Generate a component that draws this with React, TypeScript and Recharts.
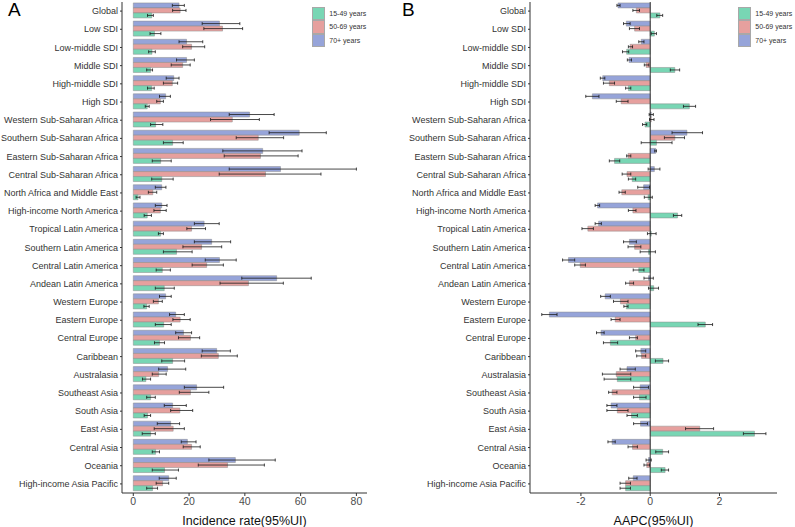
import React from 'react';
import { BarChart, Bar, XAxis, YAxis, ErrorBar, ReferenceLine, Label } from 'recharts';

const categories = [
  'Global', 'Low SDI', 'Low-middle SDI', 'Middle SDI', 'High-middle SDI', 'High SDI',
  'Western Sub-Saharan Africa', 'Southern Sub-Saharan Africa', 'Eastern Sub-Saharan Africa',
  'Central Sub-Saharan Africa', 'North Africa and Middle East', 'High-income North America',
  'Tropical Latin America', 'Southern Latin America', 'Central Latin America', 'Andean Latin America',
  'Western Europe', 'Eastern Europe', 'Central Europe', 'Caribbean', 'Australasia', 'Southeast Asia',
  'South Asia', 'East Asia', 'Central Asia', 'Oceania', 'High-income Asia Pacific',
];

// Panel A: incidence rate
const inc15 = [6.6, 7.6, 6.7, 6.2, 6.6, 5.0, 8.0, 14.1, 9.8, 10.2, 1.7, 5.0, 9.8, 15.5, 10.4, 11.1, 4.8, 10.9, 9.4, 14.1, 4.5, 6.2, 5.1, 6.2, 8.0, 11.2, 6.9];
const inc15Lo = [5.1, 6.0, 5.5, 4.8, 5.1, 4.3, 6.2, 10.8, 6.8, 6.6, 1.0, 3.9, 9.0, 10.8, 8.2, 7.9, 3.8, 7.9, 7.6, 10.2, 3.3, 4.8, 3.9, 3.2, 6.8, 6.8, 4.8];
const inc15Hi = [7.2, 9.9, 7.9, 6.9, 7.5, 5.7, 10.6, 17.9, 13.6, 14.3, 2.4, 6.5, 10.8, 21.1, 13.3, 14.7, 5.7, 13.6, 11.2, 18.4, 6.2, 7.9, 6.2, 7.9, 9.4, 16.2, 8.7];
const inc50 = [16.8, 32.0, 20.9, 17.7, 14.0, 9.7, 35.5, 44.8, 45.6, 47.4, 7.0, 9.7, 20.9, 24.5, 26.3, 41.3, 9.0, 16.8, 20.5, 30.5, 9.1, 20.5, 16.7, 14.3, 20.9, 33.8, 10.5];
const inc50Lo = [14.1, 25.3, 17.7, 13.6, 10.8, 8.4, 27.7, 36.9, 32.6, 30.8, 5.4, 7.4, 19.2, 17.8, 21.1, 31.1, 7.2, 14.2, 16.2, 24.4, 6.8, 16.5, 13.4, 7.5, 17.9, 23.3, 8.2];
const inc50Hi = [18.9, 39.2, 25.6, 20.4, 15.9, 10.8, 45.2, 53.9, 59.1, 67.3, 8.4, 11.8, 25.9, 31.7, 32.3, 53.8, 10.4, 20.4, 23.8, 37.3, 11.8, 27.1, 21.3, 18.3, 24.0, 47.0, 12.7];
const inc70 = [16.4, 30.9, 19.1, 19.1, 14.5, 11.6, 41.7, 59.5, 46.4, 52.8, 10.2, 10.2, 25.4, 28.1, 30.9, 51.4, 11.6, 15.2, 18.0, 29.9, 12.3, 22.7, 14.1, 13.4, 19.4, 36.6, 12.7];
const inc70Lo = [14.0, 24.7, 16.4, 15.5, 11.8, 9.4, 34.4, 48.7, 32.1, 34.4, 7.9, 7.9, 21.9, 21.9, 25.8, 38.9, 9.4, 13.0, 15.2, 24.7, 9.1, 18.3, 11.1, 8.6, 17.2, 27.1, 9.3];
const inc70Hi = [18.3, 38.2, 24.9, 21.9, 16.4, 13.3, 50.5, 69.2, 60.5, 80.0, 11.7, 12.1, 30.8, 34.9, 36.9, 63.8, 13.6, 18.3, 20.9, 34.8, 18.8, 32.4, 19.0, 16.6, 22.5, 50.9, 15.4];

// Panel B: AAPC
const a15 = [0.28, 0.12, -0.68, 0.71, -0.63, 1.13, -0.15, 0.18, -1.03, -0.52, -0.06, 0.79, 0.03, -0.05, -0.33, 0.10, -0.69, 1.59, -1.15, 0.37, -0.95, -0.31, -0.54, 3.01, 0.36, 0.43, -0.71];
const a15Lo = [0.19, 0.03, -0.80, 0.58, -0.71, 0.96, -0.22, -0.26, -1.18, -0.63, -0.17, 0.67, -0.08, -0.29, -0.49, -0.05, -0.76, 1.38, -1.35, 0.15, -1.33, -0.48, -0.67, 2.69, 0.16, 0.32, -0.87];
const a15Hi = [0.36, 0.18, -0.62, 0.85, -0.56, 1.31, -0.10, 0.63, -0.88, -0.42, 0.06, 0.91, 0.17, 0.15, -0.18, 0.24, -0.64, 1.80, -0.94, 0.53, -0.56, -0.12, -0.37, 3.34, 0.53, 0.53, -0.57];
const a50 = [-0.40, -0.45, -0.58, -0.12, -1.18, -0.84, 0.03, 0.71, -0.64, -0.67, -0.82, -0.50, -1.80, -0.45, -2.02, -0.60, -0.86, -1.01, -0.42, -0.25, -0.98, -1.10, -0.95, 1.43, -0.51, -0.10, -0.71];
const a50Lo = [-0.50, -0.60, -0.63, -0.17, -1.35, -0.98, -0.02, 0.41, -0.68, -0.81, -0.90, -0.63, -1.97, -0.64, -2.18, -0.71, -1.06, -1.13, -0.60, -0.39, -1.38, -1.20, -1.25, 1.02, -0.64, -0.18, -0.87];
const a50Hi = [-0.31, -0.31, -0.51, -0.04, -1.03, -0.64, 0.11, 0.99, -0.56, -0.56, -0.72, -0.41, -1.64, -0.27, -1.87, -0.48, -0.64, -0.87, -0.37, -0.13, -0.56, -0.96, -0.64, 1.83, -0.37, -0.02, -0.57];
const a70 = [-0.93, -0.69, -0.26, -0.61, -1.37, -1.67, 0.03, 1.06, 0.16, 0.12, -0.19, -1.52, -1.49, -0.60, -2.36, -0.05, -1.30, -2.91, -1.42, -0.27, -0.67, -0.29, -1.13, -0.28, -1.10, -0.05, -0.49];
const a70Lo = [-0.96, -0.77, -0.33, -0.66, -1.44, -1.86, -0.03, 0.63, 0.13, -0.06, -0.36, -1.59, -1.59, -0.77, -2.53, -0.18, -1.43, -3.13, -1.55, -0.42, -0.87, -0.48, -1.25, -0.48, -1.22, -0.12, -0.62];
const a70Hi = [-0.87, -0.58, -0.18, -0.54, -1.31, -1.48, 0.09, 1.51, 0.18, 0.28, -0.02, -1.46, -1.41, -0.40, -2.18, 0.09, -1.15, -2.69, -1.33, -0.13, -0.43, -0.05, -0.96, -0.08, -1.01, 0.03, -0.38];

const GREEN = '#78d6b4';
const RED = '#e6a09e';
const BLUE = '#96a4d9';
const FONT = '"Liberation Sans", Arial, sans-serif';

const legendItems = [
  { name: '15-49 years', color: GREEN },
  { name: '50-69 years', color: RED },
  { name: '70+ years', color: BLUE },
];

// error bars take [minus, plus] distances from the bar value
const buildRows = (v15: number[], l15: number[], h15: number[], v50: number[], l50: number[], h50: number[], v70: number[], l70: number[], h70: number[]) =>
  categories.map((name, i) => ({
    name,
    y15: v15[i], e15: [v15[i] - l15[i], h15[i] - v15[i]],
    y50: v50[i], e50: [v50[i] - l50[i], h50[i] - v50[i]],
    y70: v70[i], e70: [v70[i] - l70[i], h70[i] - v70[i]],
  }));

const incData = buildRows(inc15, inc15Lo, inc15Hi, inc50, inc50Lo, inc50Hi, inc70, inc70Lo, inc70Hi);
const aapcData = buildRows(a15, a15Lo, a15Hi, a50, a50Lo, a50Hi, a70, a70Lo, a70Hi);

// single-line category labels (the default tick wraps long names)
const CategoryTick = ({ x, y, payload }: any) => (
  <text x={x} y={y} dy="0.34em" textAnchor="end" fontSize={9} fill="#333" fontFamily={FONT}>
    {payload.value}
  </text>
);

function Legend({ left }: { left: number }) {
  return (
    <div style={{ position: 'absolute', left, top: 7 }}>
      {legendItems.map((it) => (
        <div key={it.name} style={{ display: 'flex', alignItems: 'center', height: 13.3 }}>
          <div style={{ width: 13.3, height: 13.3, boxSizing: 'border-box', background: it.color, border: '1px solid #a8a8a8' }} />
          <span style={{ marginLeft: 4, fontSize: 7, color: '#333', fontFamily: FONT }}>{it.name}</span>
        </div>
      ))}
    </div>
  );
}

function Panel({ data, width, yWidth, right, domain, ticks, title, zeroLine }: any) {
  const axis = { stroke: '#333', strokeWidth: 1 };
  return (
    <BarChart
      width={width}
      height={527}
      data={data}
      layout="vertical"
      margin={{ top: 2, right, bottom: 0, left: 0 }}
      barCategoryGap="5%"
      barGap={0}
    >
      <XAxis
        type="number"
        domain={domain}
        ticks={ticks}
        allowDataOverflow
        height={34}
        axisLine={axis}
        tickLine={axis}
        tickSize={3}
        tick={{ fontSize: 10.5, fill: '#4d4d4d', fontFamily: FONT }}
      >
        <Label value={title} position="insideBottom" offset={2} style={{ fontSize: 12.5, fill: '#111', fontFamily: FONT }} />
      </XAxis>
      <YAxis
        type="category"
        dataKey="name"
        width={yWidth}
        interval={0}
        axisLine={axis}
        tickLine={axis}
        tickSize={2}
        tickMargin={2}
        tick={<CategoryTick />}
      />
      {zeroLine && <ReferenceLine x={0} stroke="#333" strokeWidth={1} />}
      <Bar dataKey="y70" fill={BLUE} stroke="#8a8a8a" strokeWidth={0.5} isAnimationActive={false}>
        <ErrorBar dataKey="e70" direction="x" width={1.5} stroke="#1a1a1a" strokeWidth={0.8} />
      </Bar>
      <Bar dataKey="y50" fill={RED} stroke="#8a8a8a" strokeWidth={0.5} isAnimationActive={false}>
        <ErrorBar dataKey="e50" direction="x" width={1.5} stroke="#1a1a1a" strokeWidth={0.8} />
      </Bar>
      <Bar dataKey="y15" fill={GREEN} stroke="#8a8a8a" strokeWidth={0.5} isAnimationActive={false}>
        <ErrorBar dataKey="e15" direction="x" width={1.5} stroke="#1a1a1a" strokeWidth={0.8} />
      </Bar>
    </BarChart>
  );
}

export default function App() {
  const letter = { position: 'absolute' as const, top: 0, fontSize: 19, lineHeight: '19px', fontFamily: FONT, color: '#000' };
  return (
    <div style={{ position: 'absolute', left: 0, top: 0, width: 795, height: 527, background: '#fff', overflow: 'hidden' }}>
      <div style={{ position: 'absolute', left: 0, top: 0 }}>
        <Panel data={incData} width={400} yWidth={122} right={33} domain={[-4.05, 83.8]} ticks={[0, 20, 40, 60, 80]} title="Incidence rate(95%UI)" />
      </div>
      <div style={{ position: 'absolute', left: 400, top: 0 }}>
        <Panel data={aapcData} width={395} yWidth={130} right={18} domain={[-3.47, 3.66]} ticks={[-2, 0, 2]} title="AAPC(95%UI)" zeroLine />
      </div>
      <div style={{ ...letter, left: 8 }}>A</div>
      <div style={{ ...letter, left: 402 }}>B</div>
      <Legend left={312} />
      <Legend left={738} />
    </div>
  );
}
